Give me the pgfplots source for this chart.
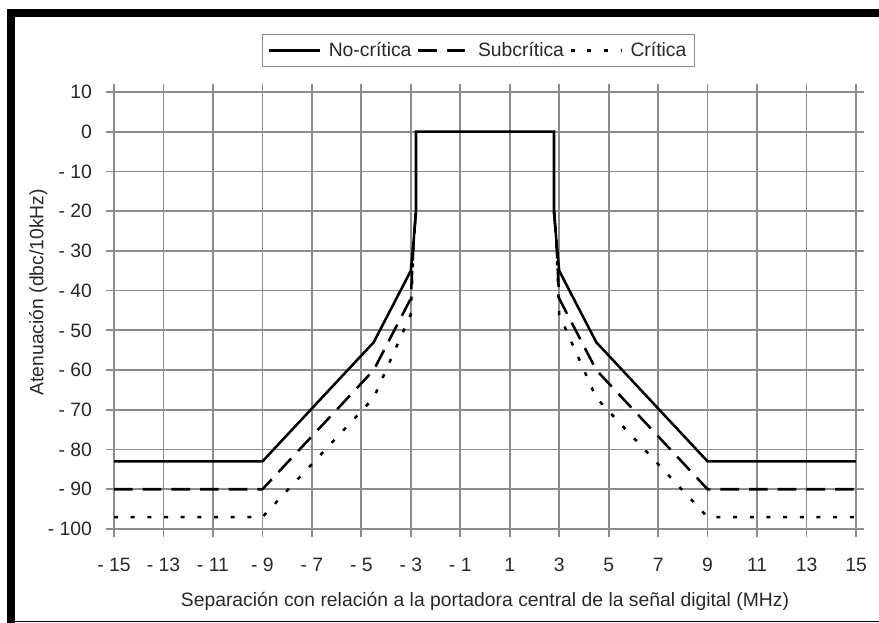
\documentclass[border=0pt]{standalone}
\usepackage{fontspec}
\setmainfont{Liberation Sans}
\usepackage{pgfplots}
\pgfplotsset{compat=1.18}
\definecolor{gridgray}{RGB}{140,140,140}
\definecolor{txt}{RGB}{40,40,40}
\begin{document}
\begin{tikzpicture}[x=0.75pt,y=0.75pt]
\begin{axis}[
  scale only axis,
  width=556.5pt, height=327.75pt,
  at={(85.5pt,70.5pt)}, anchor=south west,
  xmin=-15, xmax=15, ymin=-100, ymax=10,
  xtick={-15,-13,...,15},
  xticklabels={- 15,- 13,- 11,- 9,- 7,- 5,- 3,- 1,1,3,5,7,9,11,13,15},
  ytick={-100,-90,...,10},
  yticklabels={- 100,- 90,- 80,- 70,- 60,- 50,- 40,- 30,- 20,- 10,0,10},
  grid=major,
  grid style={gridgray, line width=1.3pt},
  axis line style={gridgray, line width=1.3pt},
  tick style={gridgray, line width=1.3pt},
  tick align=outside,
  major tick length=6pt,
  tick label style={font=\fontsize{14.5}{17}\selectfont, text=txt},
  xticklabel style={yshift=-12pt},
  yticklabel style={xshift=-7pt},
  label style={font=\fontsize{14.5}{17}\selectfont, text=txt},
  xlabel={Separación con relación a la portadora central de la señal digital (MHz)},
  ylabel={Atenuación (dbc/10kHz)},
  xlabel style={at={(axis description cs:0.5,-0.165)}, anchor=center},
  ylabel style={at={(axis description cs:-0.102,0.542)}, anchor=center},
  legend style={at={(0.491,1.095)}, anchor=center, draw=gridgray, line width=1pt,
    font=\fontsize{14.5}{17}\selectfont, text=txt, inner sep=4pt,
    /tikz/every odd column/.append style={column sep=4pt},
    /tikz/every even column/.append style={column sep=2pt}},
  legend columns=3,
  legend image code/.code={\draw[#1] (0pt,0pt) -- (38pt,0pt);},
  clip=false,
]
\addplot[black, line width=1.9pt, line join=miter] coordinates {
(-15,-83) (-9,-83) (-4.5,-53) (-3,-35) (-2.88,-27) (-2.79,-20) (-2.79,0)
(2.79,0) (2.79,-20) (2.88,-27) (3,-35) (4.5,-53) (9,-83) (15,-83)};
\addlegendentry{No-crítica}
\addplot[black, line width=1.9pt, dash pattern=on 14pt off 7.5pt] coordinates {
(-15,-90) (-9,-90) (-4.5,-60) (-3,-42) (-2.88,-27) (-2.79,-20)};
\addlegendentry{Subcrítica}
\addplot[black, line width=1.9pt, dash pattern=on 3pt off 9.5pt] coordinates {
(-15,-97) (-9,-97) (-4.5,-67) (-3,-46) (-2.88,-27) (-2.79,-20)};
\addlegendentry{Crítica}
\addplot[black, line width=1.9pt, dash pattern=on 14pt off 7.5pt, forget plot] coordinates {
(2.79,-20) (2.88,-27) (3,-42) (4.5,-60) (9,-90) (15,-90)};
\addplot[black, line width=1.9pt, dash pattern=on 3pt off 9.5pt, forget plot] coordinates {
(2.79,-20) (2.88,-27) (3,-46) (4.5,-67) (9,-97) (15,-97)};
\end{axis}
\draw[line width=6pt, line join=miter] (11,0) -- (11,610) -- (879,610);
\draw[line width=1.2pt] (7,1.5) -- (879,1.5);
\pgfresetboundingbox
\path[use as bounding box] (0,0) rectangle (879,623);
\end{tikzpicture}
\end{document}
